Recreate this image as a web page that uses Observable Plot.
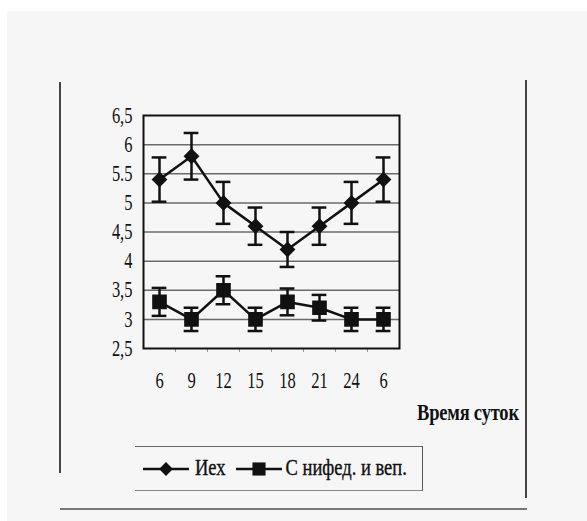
<!DOCTYPE html>
<html>
<head>
<meta charset="utf-8">
<script src="https://cdn.jsdelivr.net/npm/d3@7"></script>
<script src="https://cdn.jsdelivr.net/npm/@observablehq/plot@0.6"></script>
<style>
  html, body { margin: 0; padding: 0; background: #fff; }
  #page { position: relative; width: 587px; height: 521px; overflow: hidden; background: #fff; font-family: "Liberation Serif", "DejaVu Serif", serif; }
  #paper { position: absolute; left: 7px; top: 11px; right: 0; bottom: 0; background: #f6f6f6; }
  #chart { position: absolute; left: 0; top: 0; }
  .vline { position: absolute; width: 2px; background: #444; }
  .hline { position: absolute; height: 1.5px; background: #777; }
  #xtitle { position: absolute; left: 417px; top: 402px; font-weight: bold; font-size: 18.5px; color: #111; transform: scaleY(1.3); transform-origin: left center; white-space: nowrap; letter-spacing: -0.2px; }
  #legend { position: absolute; left: 135px; top: 446px; width: 287px; height: 43px; border-top: 1.5px solid #666; border-bottom: 1.5px solid #888; border-right: 1.5px solid #555; display: flex; align-items: center; font-size: 18.5px; color: #111; white-space: nowrap; -webkit-text-stroke: 0.3px #111; }
  #legend .item { display: flex; align-items: center; }
  #legend .lab { transform: scaleY(1.25); display: inline-block; }
</style>
</head>
<body>
<div id="page">
  <div id="paper"></div>
  <div class="vline" style="left:59px; top:82px; height:391px;"></div>
  <div class="vline" style="left:525px; top:80px; height:418px;"></div>
  <div class="hline" style="left:60px; top:508px; width:467px;"></div>
  <div id="chart"></div>
  <div id="xtitle"></div>
  <div id="legend"></div>
</div>
<script>
// ---- data ----
const hours = ["6", "9", "12", "15", "18", "21", "24", "6"];
const iex = [5.4, 5.8, 5.0, 4.6, 4.2, 4.6, 5.0, 5.4];
const iexErr = [0.38, 0.4, 0.36, 0.32, 0.3, 0.32, 0.36, 0.38];
const nif = [3.3, 3.0, 3.5, 3.0, 3.3, 3.2, 3.0, 3.0];
const nifErr = [0.24, 0.2, 0.24, 0.2, 0.23, 0.22, 0.2, 0.2];
const yTicks = [2.5, 3, 3.5, 4, 4.5, 5, 5.5, 6, 6.5];
const yTickLabels = ["2,5", "3", "3,5", "4", "4,5", "5", "5.5", "6", "6,5"];
const seriesNames = ["Иех", "С нифед. и веп."];
const xTitle = "Время суток";

// ---- table built from arrays ----
const rows = hours.map((h, i) => ({
  i, h,
  iex: iex[i], iexLo: iex[i] - iexErr[i], iexHi: iex[i] + iexErr[i],
  nif: nif[i], nifLo: nif[i] - nifErr[i], nifHi: nif[i] + nifErr[i]
}));
const idx = hours.map((h, i) => i);
const bounds = idx.slice(0, -1).map(i => i + 0.5);
const capW = 0.23;

const ink = "#111";
const plot = Plot.plot({
  width: 587,
  height: 521,
  marginLeft: 143,
  marginRight: 188,
  marginTop: 115,
  marginBottom: 173,
  style: { background: "transparent", fontFamily: "Liberation Serif, DejaVu Serif, serif", fontSize: "16px", color: ink },
  x: { type: "linear", domain: [-0.5, 7.5], label: null },
  y: { domain: [2.5, 6.5], label: null },
  marks: [
    Plot.ruleY(yTicks.slice(1, -1), { stroke: "#6a6a6a", strokeWidth: 1.5 }),
    Plot.axisX(bounds, { tickSize: 4, tickFormat: () => "", stroke: "#999", strokeWidth: 1, label: null }),
    Plot.axisX(idx, { tickSize: 0, tickPadding: 24, tickFormat: (d) => hours[d], fontSize: 16.5, fill: ink, stroke: ink, strokeWidth: 0.35, label: null }),
    Plot.axisY(yTicks, { tickSize: 0, tickPadding: 11, tickFormat: (d) => yTickLabels[yTicks.indexOf(d)], fontSize: 16.5, fill: ink, stroke: ink, strokeWidth: 0.35, label: null }),
    Plot.frame({ stroke: ink, strokeWidth: 2 }),
    // series 1
    Plot.line(rows, { x: "i", y: "iex", stroke: ink, strokeWidth: 2.5 }),
    Plot.ruleX(rows, { x: "i", y1: "iexLo", y2: "iexHi", stroke: ink, strokeWidth: 2.5 }),
    Plot.ruleY(rows, { y: "iexHi", x1: d => d.i - capW, x2: d => d.i + capW, stroke: ink, strokeWidth: 2.5 }),
    Plot.ruleY(rows, { y: "iexLo", x1: d => d.i - capW, x2: d => d.i + capW, stroke: ink, strokeWidth: 2.5 }),
    Plot.dot(rows, { x: "i", y: "iex", symbol: "diamond2", r: 6.2, fill: ink, stroke: ink }),
    // series 2
    Plot.line(rows, { x: "i", y: "nif", stroke: ink, strokeWidth: 2.5 }),
    Plot.ruleX(rows, { x: "i", y1: "nifLo", y2: "nifHi", stroke: ink, strokeWidth: 2.5 }),
    Plot.ruleY(rows, { y: "nifHi", x1: d => d.i - capW, x2: d => d.i + capW, stroke: ink, strokeWidth: 2.5 }),
    Plot.ruleY(rows, { y: "nifLo", x1: d => d.i - capW, x2: d => d.i + capW, stroke: ink, strokeWidth: 2.5 }),
    Plot.dot(rows, { x: "i", y: "nif", symbol: "square", r: 7.4, fill: ink, stroke: ink })
  ]
});
// stretch tick labels vertically like the scanned original
plot.querySelectorAll("text").forEach(t => {
  const tr = t.getAttribute("transform");
  if (tr) t.setAttribute("transform", tr + " scale(1,1.35)");
});
document.getElementById("chart").appendChild(plot);

document.getElementById("xtitle").textContent = xTitle;

// legend
const leg = document.getElementById("legend");
function swatch(symbol) {
  const s = d3.create("svg").attr("width", 50).attr("height", 20).style("overflow", "visible");
  s.append("line").attr("x1", 2).attr("x2", 48).attr("y1", 10).attr("y2", 10).attr("stroke", ink).attr("stroke-width", 2.5);
  const sz = symbol === "square" ? Math.PI * 7.4 * 7.4 : Math.PI * 6.2 * 6.2;
  const sym = symbol === "square" ? d3.symbolSquare : d3.symbolDiamond2;
  s.append("path").attr("d", d3.symbol(sym, sz)()).attr("transform", "translate(25,10)").attr("fill", ink);
  return s.node();
}
[["diamond2", seriesNames[0], 6, 4], ["square", seriesNames[1], 8, 2]].forEach(([sym, name, ml, gap]) => {
  const it = document.createElement("div");
  it.className = "item";
  it.style.marginLeft = ml + "px";
  it.appendChild(swatch(sym));
  const lab = document.createElement("span");
  lab.className = "lab";
  lab.style.marginLeft = gap + "px";
  lab.textContent = name;
  it.appendChild(lab);
  leg.appendChild(it);
});
</script>
</body>
</html>
